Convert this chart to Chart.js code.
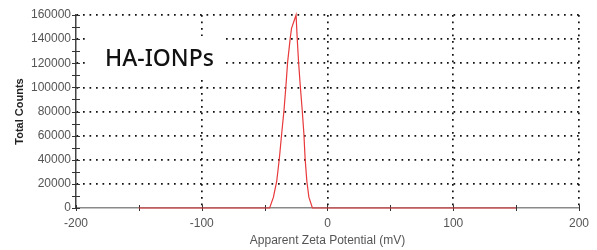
<!DOCTYPE html>
<html>
<head>
<meta charset="utf-8">
<script src="https://cdn.jsdelivr.net/npm/chart.js@4"></script>
<style>
  html, body { margin: 0; padding: 0; background: #fff; }
  #wrap { width: 597px; height: 250px; }
</style>
</head>
<body>
<div id="wrap"><canvas id="zeta" width="597" height="250"></canvas></div>
<script>
// zeta distribution
const zetaMv = [-150, -46, -43, -40.4, -38.3, -36.4, -34.6, -33, -31.7, -29.6, -28.6, -25,
  -24.1, -23, -21.7, -20.1, -18.8, -17.8, -16.4, -14.8, -12, 150];
const totalCounts = [0, 0, 9000, 22000, 41000, 62000, 81000, 102000, 121000, 141000, 149000, 160000,
  141000, 121000, 102000, 81000, 62000, 41000, 22000, 9000, 0, 0];
const xTickLabels = [-200, -100, 0, 100, 200];
const yTickLabels = [0, 20000, 40000, 60000, 80000, 100000, 120000, 140000, 160000];
const sampleName = "HA-IONPs";

const FONT = "'Liberation Sans', Arial, sans-serif";
const points = zetaMv.map((x, i) => ({ x, y: totalCounts[i] }));

// short tick marks that cross the axis lines, plus the sample label
const crossTicks = {
  id: "crossTicks",
  beforeDatasetsDraw(chart) {
    const { ctx, scales: { x, y }, chartArea: a } = chart;
    ctx.save();
    ctx.strokeStyle = "#333";
    ctx.lineWidth = 1;
    ctx.beginPath();
    for (const t of x.ticks) {
      const px = Math.round(x.getPixelForValue(t.value)) + 0.5;
      ctx.moveTo(px, a.bottom - 3); ctx.lineTo(px, a.bottom + 3);
    }
    for (const t of y.ticks) {
      const py = Math.round(y.getPixelForValue(t.value)) + 0.5;
      ctx.moveTo(a.left - 4, py); ctx.lineTo(a.left + 4, py);
    }
    ctx.stroke();
    ctx.fillStyle = "#fff";
    ctx.fillRect(88, 36, 138, 44);
    ctx.fillStyle = "#111";
    ctx.font = "500 23px 'Noto Sans', sans-serif";
    ctx.textBaseline = "alphabetic";
    ctx.fillText(sampleName, 105, 66);
    ctx.restore();
  }
};

new Chart(document.getElementById("zeta"), {
  type: "scatter",
  data: {
    datasets: [{
      data: points,
      showLine: true,
      borderColor: "#e8383a",
      borderWidth: 1.2,
      pointRadius: 0,
      tension: 0,
      clip: false
    }]
  },
  options: {
    responsive: false,
    animation: false,
    layout: { padding: { top: 15, right: 14, left: 0, bottom: 0 } },
    plugins: { legend: { display: false }, tooltip: { enabled: false } },
    scales: {
      x: {
        type: "linear", min: -200, max: 200,
        afterFit: s => { s.height = 42; },
        ticks: {
          stepSize: 50, padding: 8, color: "#555", font: { family: FONT, size: 12 },
          maxRotation: 0, autoSkip: false,
          callback: v => xTickLabels.includes(v) ? String(v) : ""
        },
        grid: {
          drawTicks: false,
          color: c => (c.tick && c.tick.value % 100 === 0 && c.tick.value > -200) ? "#111" : "transparent",
          lineWidth: 1.7
        },
        border: { color: "#8a8a8a", width: 1.5, dash: [1.7, 4.8] },
        title: {
          display: true, text: "Apparent Zeta Potential (mV)", color: "#555",
          font: { family: FONT, size: 12 }, padding: { top: 3, bottom: 2 }
        }
      },
      y: {
        min: 0, max: 160000,
        afterFit: s => { s.width = 76; },
        ticks: {
          stepSize: 10000, padding: 5, color: "#555", font: { family: FONT, size: 12 },
          autoSkip: false,
          callback: v => yTickLabels.includes(v) ? String(v) : ""
        },
        grid: {
          drawTicks: false,
          color: c => (c.tick && c.tick.value % 20000 === 0 && c.tick.value > 0) ? "#111" : "transparent",
          lineWidth: 1.7
        },
        border: { color: "#444", width: 1.5, dash: [1.7, 4.8] },
        title: {
          display: true, text: "Total Counts", color: "#222",
          font: { family: FONT, size: 11, weight: "bold" }, padding: { top: 13, bottom: 0 }
        }
      }
    }
  },
  plugins: [crossTicks]
});
</script>
</body>
</html>
